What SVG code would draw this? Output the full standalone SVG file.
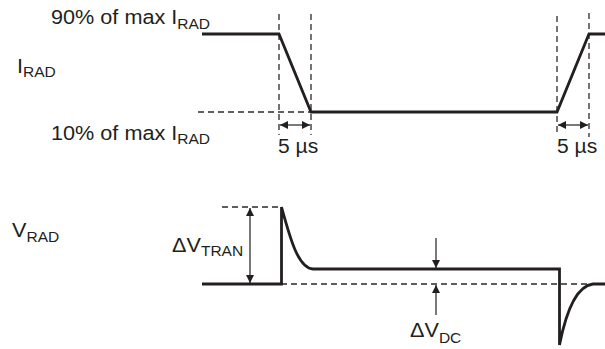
<svg xmlns="http://www.w3.org/2000/svg" width="605" height="349" viewBox="0 0 605 349">
<style>
text{font-family:"Liberation Sans",Arial,sans-serif;fill:#231f20;font-size:19.5px}
.sub{font-size:14px}
.wave{fill:none;stroke:#231f20;stroke-width:2.8;stroke-linejoin:miter}
.dash{fill:none;stroke:#2a2a2a;stroke-width:1.3;stroke-dasharray:6 4}
.dim{fill:none;stroke:#231f20;stroke-width:1.2}
</style>
<defs>
<marker id="ah" viewBox="0 0 10 10" refX="10" refY="5" markerWidth="10" markerHeight="8" markerUnits="userSpaceOnUse" orient="auto-start-reverse">
<path d="M0,0 L10,5 L0,10 Z" fill="#231f20"/>
</marker>
</defs>
<g id="labels">
<text transform="translate(51,24) scale(1.11,1)">90% of max I<tspan class="sub" dy="5">RAD</tspan></text>
<text transform="translate(17,73) scale(1.11,1)">I<tspan class="sub" dy="4">RAD</tspan></text>
<text transform="translate(51,140) scale(1.11,1)">10% of max I<tspan class="sub" dy="4">RAD</tspan></text>
<text transform="translate(278,153) scale(1.08,1)">5 µs</text>
<text transform="translate(557,153) scale(1.08,1)">5 µs</text>
<text transform="translate(12,237) scale(1.11,1)">V<tspan class="sub" dy="5">RAD</tspan></text>
<text transform="translate(172,252) scale(1.11,1)">ΔV<tspan class="sub" dy="4">TRAN</tspan></text>
<text transform="translate(410,337) scale(1.11,1)">ΔV<tspan class="sub" dy="6">DC</tspan></text>
</g>
<g id="guides">
<line class="dash" x1="279" y1="14" x2="279" y2="135"/>
<line class="dash" x1="311" y1="14" x2="311" y2="135"/>
<line class="dash" x1="557" y1="16" x2="557" y2="135"/>
<line class="dash" x1="589" y1="13" x2="589" y2="137"/>
<line class="dash" x1="198" y1="112" x2="311" y2="112"/>
<line class="dash" x1="222" y1="207" x2="281" y2="207"/>
<line class="dash" x1="281" y1="284" x2="605" y2="284"/>
</g>
<g id="connectors">
<line class="dim" x1="280" y1="125" x2="310" y2="125" marker-start="url(#ah)" marker-end="url(#ah)"/>
<line class="dim" x1="558" y1="125" x2="588" y2="125" marker-start="url(#ah)" marker-end="url(#ah)"/>
<line class="dim" x1="250" y1="208" x2="250" y2="283" marker-start="url(#ah)" marker-end="url(#ah)"/>
<line class="dim" x1="436" y1="238" x2="436" y2="268" marker-end="url(#ah)"/>
<line class="dim" x1="436" y1="315" x2="436" y2="285" marker-end="url(#ah)"/>
</g>
<g id="i-rad-wave">
<path class="wave" d="M202,34 H279 L311,112 H557 L589,34 H605"/>
</g>
<g id="v-rad-wave">
<path class="wave" d="M202,284 H281.5 V207 C290,238 298,268 313,269 H559.5 V345 C566,312 576,286 593,284 H605"/>
</g>
</svg>
